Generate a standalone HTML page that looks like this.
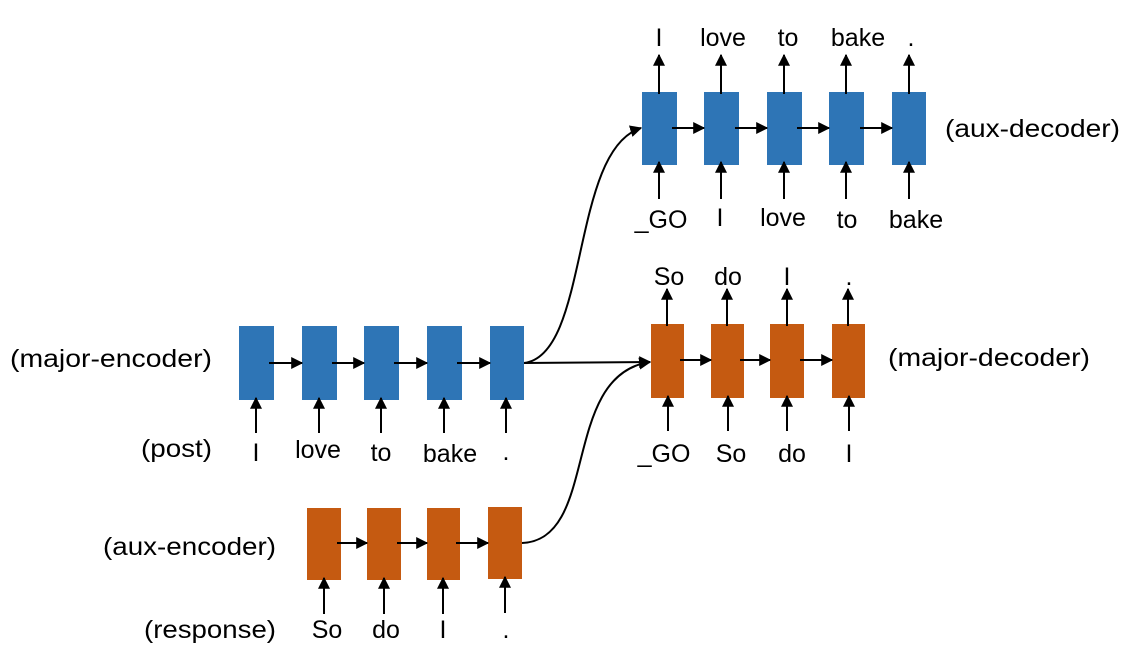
<!DOCTYPE html>
<html><head><meta charset="utf-8"><style>body{margin:0;background:#fff}svg{display:block}</style></head><body>
<svg width="1135" height="664" viewBox="0 0 1135 664" xmlns="http://www.w3.org/2000/svg" font-family="Liberation Sans, sans-serif" font-size="25" fill="#000">
<defs><marker id="a" viewBox="0 0 10 10" refX="9" refY="5" markerWidth="6" markerHeight="6" markerUnits="strokeWidth" orient="auto"><path d="M0,0L10,5L0,10z" fill="#000"/></marker></defs>
<g stroke="#000" stroke-width="2" fill="none">
<path d="M524,363 C590,355 570,150 641,128" marker-end="url(#a)"/>
<path d="M524,363 L650,362" marker-end="url(#a)"/>
<path d="M522,543 C600,540 560,375 650,362" marker-end="url(#a)"/>
</g>
<g fill="#2e75b6"><rect x="239" y="326" width="35" height="74"/><rect x="302" y="326" width="35" height="74"/><rect x="364" y="326" width="35" height="74"/><rect x="427" y="326" width="35" height="74"/><rect x="490" y="326" width="34" height="74"/></g>
<g fill="#2e75b6"><rect x="642" y="92" width="35" height="73"/><rect x="704" y="92" width="35" height="73"/><rect x="767" y="92" width="35" height="73"/><rect x="829" y="92" width="35" height="73"/><rect x="892" y="92" width="34" height="73"/></g>
<g fill="#c55a11"><rect x="651" y="324" width="33" height="74"/><rect x="711" y="324" width="33" height="74"/><rect x="770" y="324" width="34" height="74"/><rect x="832" y="324" width="33" height="74"/></g>
<g fill="#c55a11"><rect x="307" y="508" width="34" height="72"/><rect x="367" y="508" width="34" height="72"/><rect x="427" y="508" width="33" height="72"/><rect x="488" y="507" width="34" height="72"/></g>
<g stroke="#000" stroke-width="2" fill="none" marker-end="url(#a)">
<path d="M269,363H302"/><path d="M332,363H364"/><path d="M394,363H427"/><path d="M457,363H490"/>
<path d="M256,433V398"/><path d="M319,433V398"/><path d="M381,433V398"/><path d="M444,433V398"/><path d="M506,433V398"/>
<path d="M672,128H704"/><path d="M735,128H767"/><path d="M797,128H829"/><path d="M860,128H892"/>
<path d="M659,94V55"/><path d="M721,94V55"/><path d="M784,94V55"/><path d="M846,94V55"/><path d="M909,94V55"/>
<path d="M659,199V162"/><path d="M721,199V162"/><path d="M784,199V162"/><path d="M846,199V162"/><path d="M909,199V162"/>
<path d="M680,360H711"/><path d="M740,360H770"/><path d="M800,360H832"/>
<path d="M667,326V289"/><path d="M727,326V289"/><path d="M787,326V289"/><path d="M848,326V289"/>
<path d="M668,431V396"/><path d="M728,431V396"/><path d="M787,431V396"/><path d="M849,431V396"/>
<path d="M337,543H367"/><path d="M397,543H427"/><path d="M456,543H488"/>
<path d="M324,614V578"/><path d="M384,614V578"/><path d="M443,614V578"/><path d="M505,613V577"/>
</g>
<g text-anchor="middle">
<text x="256" y="461">I</text><text x="318" y="458">love</text><text x="381" y="461">to</text><text x="450" y="462">bake</text><text x="506" y="460">.</text>
<text x="659" y="46">I</text><text x="723" y="46">love</text><text x="788" y="46">to</text><text x="858" y="46">bake</text><text x="911" y="46">.</text>
<text x="661" y="228">_GO</text><text x="720" y="226">I</text><text x="783" y="226">love</text><text x="847" y="228">to</text><text x="916" y="228">bake</text>
<text x="669" y="285">So</text><text x="728" y="285">do</text><text x="787" y="285">I</text><text x="849" y="285">.</text>
<text x="664" y="462">_GO</text><text x="731" y="462">So</text><text x="792" y="462">do</text><text x="849" y="462">I</text>
<text x="327" y="638">So</text><text x="386" y="638">do</text><text x="443" y="638">I</text><text x="506" y="638">.</text>
</g>
<text x="10" y="367" textLength="202" lengthAdjust="spacingAndGlyphs">(major-encoder)</text>
<text x="141" y="457" textLength="71" lengthAdjust="spacingAndGlyphs">(post)</text>
<text x="103" y="555" textLength="173" lengthAdjust="spacingAndGlyphs">(aux-encoder)</text>
<text x="144" y="638" textLength="132" lengthAdjust="spacingAndGlyphs">(response)</text>
<text x="945" y="137" textLength="175" lengthAdjust="spacingAndGlyphs">(aux-decoder)</text>
<text x="888" y="366" textLength="202" lengthAdjust="spacingAndGlyphs">(major-decoder)</text>
</svg>
</body></html>
